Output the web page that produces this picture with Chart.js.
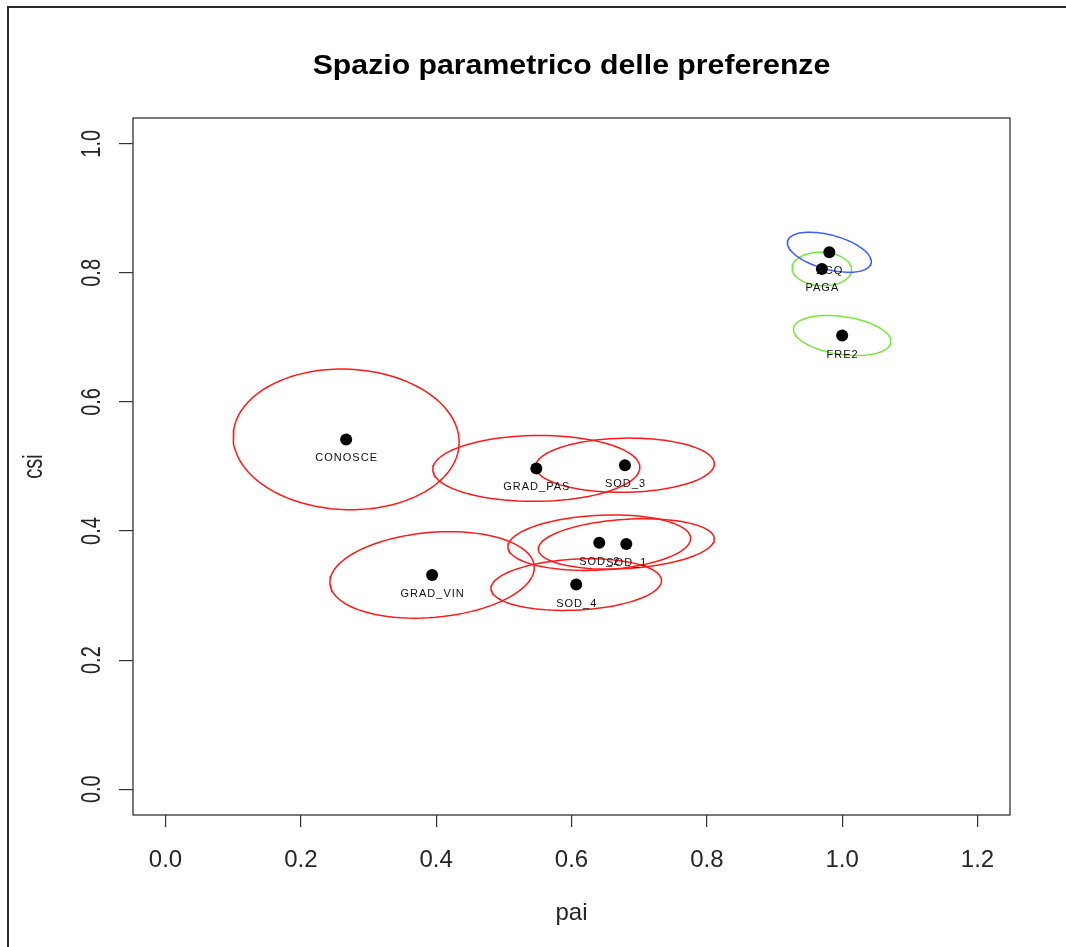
<!DOCTYPE html>
<html>
<head>
<meta charset="utf-8">
<script src="https://cdn.jsdelivr.net/npm/chart.js@4.4.1/dist/chart.umd.min.js"></script>
<style>
  html, body { margin: 0; padding: 0; background: #ffffff; }
  canvas { display: block; }
</style>
</head>
<body>
<canvas id="grafico" width="1066" height="947"></canvas>
<script>
// Testi del grafico
const titolo = 'Spazio parametrico delle preferenze';
const etichettaX = 'pai';
const etichettaY = 'csi';

// Tacche degli assi
const tickX = [0.0, 0.2, 0.4, 0.6, 0.8, 1.0, 1.2];
const tickY = [0.0, 0.2, 0.4, 0.6, 0.8, 1.0];
const tickXTesto = ['0.0', '0.2', '0.4', '0.6', '0.8', '1.0', '1.2'];
const tickYTesto = ['0.0', '0.2', '0.4', '0.6', '0.8', '1.0'];

// Stime dei parametri per ciascuna variabile
const nomi    = ['CONOSCE', 'GRAD_PAS', 'SOD_3', 'SOD_2', 'SOD_1', 'SOD_4', 'GRAD_VIN', 'ACQ', 'PAGA', 'FRE2'];
const pai     = [0.267, 0.548, 0.679, 0.641, 0.681, 0.607, 0.394, 0.981, 0.970, 1.000];
const csi     = [0.542, 0.497, 0.502, 0.382, 0.380, 0.317, 0.332, 0.832, 0.806, 0.703];
// Semiampiezze delle regioni di confidenza e correlazione tra pai e csi
const semiPai = [0.167, 0.153, 0.132, 0.135, 0.130, 0.126, 0.151, 0.062, 0.044, 0.072];
const semiCsi = [0.109, 0.051, 0.042, 0.043, 0.039, 0.040, 0.067, 0.031, 0.026, 0.031];
const corr    = [-0.04, 0.03, 0.05, 0.15, 0.20, 0.15, 0.17, -0.47, -0.05, -0.30];
const gruppo  = [1, 1, 1, 1, 1, 1, 1, 2, 3, 3];

// Stili
const coloreGruppo = { 1: '#ff1a1a', 2: '#3f5dff', 3: '#7ae63c' };
const limitiX = { min: -0.048, max: 1.248 };
const limitiY = { min: -0.04, max: 1.04 };
const FONT = '"Liberation Sans", Arial, Helvetica, sans-serif';

// Contorno dell'ellisse di confidenza (parametrizzazione con correlazione)
function contorno(cx, cy, sx, sy, r, passi) {
  const d = Math.acos(r);
  const punti = [];
  for (let i = 0; i <= passi; i++) {
    const t = (2 * Math.PI * i) / passi;
    punti.push({ x: cx + sx * Math.cos(t + d / 2), y: cy + sy * Math.cos(t - d / 2) });
  }
  return punti;
}

const datasetEllissi = nomi.map((n, i) => ({
  label: n,
  data: contorno(pai[i], csi[i], semiPai[i], semiCsi[i], corr[i], 90),
  showLine: true,
  fill: false,
  borderColor: coloreGruppo[gruppo[i]],
  borderWidth: 1.5,
  pointRadius: 0,
  tension: 0,
  order: 2
}));

const datasetPunti = {
  label: 'stime',
  data: nomi.map((n, i) => ({ x: pai[i], y: csi[i] })),
  showLine: false,
  pointRadius: 6,
  pointBackgroundColor: '#000000',
  pointBorderColor: '#000000',
  pointBorderWidth: 0,
  order: 1
};

// Testi, riquadro e cornice disegnati sopra il grafico
const testiGrafico = {
  id: 'testiGrafico',
  afterDraw(chart) {
    const ctx = chart.ctx;
    const area = chart.chartArea;
    const sx = chart.scales.x, sy = chart.scales.y;
    const cxArea = (area.left + area.right) / 2;
    const cyArea = (area.top + area.bottom) / 2;
    ctx.save();

    // cornice esterna
    ctx.strokeStyle = '#2a2a2a';
    ctx.lineWidth = 2;
    ctx.beginPath();
    ctx.moveTo(8, 947);
    ctx.lineTo(8, 7);
    ctx.lineTo(1066, 7);
    ctx.stroke();

    // riquadro dell'area del grafico
    ctx.strokeStyle = '#333333';
    ctx.lineWidth = 1.3;
    ctx.strokeRect(area.left, area.top, area.right - area.left, area.bottom - area.top);

    // titolo
    ctx.fillStyle = '#000000';
    ctx.textAlign = 'center';
    ctx.textBaseline = 'middle';
    ctx.save();
    ctx.translate(cxArea, 66);
    ctx.scale(1.12, 1.05);
    ctx.font = 'bold 27px ' + FONT;
    ctx.fillText(titolo, 0, 0);
    ctx.restore();

    // etichette asse x
    ctx.fillStyle = '#262626';
    ctx.font = '24px ' + FONT;
    tickX.forEach((v, i) => {
      ctx.fillText(tickXTesto[i], sx.getPixelForValue(v), 860);
    });
    ctx.fillText(etichettaX, cxArea, 913);

    // etichette asse y (ruotate)
    ctx.font = '20px ' + FONT;
    tickY.forEach((v, i) => {
      ctx.save();
      ctx.translate(92, sy.getPixelForValue(v));
      ctx.rotate(-Math.PI / 2);
      ctx.scale(1, 1.4);
      ctx.fillText(tickYTesto[i], 0, 0);
      ctx.restore();
    });
    ctx.save();
    ctx.translate(34, cyArea);
    ctx.rotate(-Math.PI / 2);
    ctx.scale(1, 1.4);
    ctx.fillText(etichettaY, 0, 0);
    ctx.restore();

    // nomi delle variabili sotto i punti
    ctx.fillStyle = '#111111';
    ctx.font = '11px ' + FONT;
    if ('letterSpacing' in ctx) ctx.letterSpacing = '1px';
    nomi.forEach((n, i) => {
      ctx.fillText(n, sx.getPixelForValue(pai[i]) + 0.5, sy.getPixelForValue(csi[i]) + 19);
    });
    ctx.restore();
  }
};

new Chart(document.getElementById('grafico'), {
  type: 'scatter',
  data: { datasets: [...datasetEllissi, datasetPunti] },
  options: {
    responsive: false,
    animation: false,
    events: [],
    layout: { padding: { top: 118, right: 56, left: 0, bottom: 0 } },
    plugins: { legend: { display: false }, tooltip: { enabled: false }, title: { display: false } },
    scales: {
      x: {
        type: 'linear',
        min: limitiX.min,
        max: limitiX.max,
        afterBuildTicks: (s) => { s.ticks = tickX.map(v => ({ value: v })); },
        afterFit: (s) => { s.height = 132; },
        ticks: { display: false },
        border: { display: false },
        grid: { drawOnChartArea: false, drawTicks: true, tickLength: 12, color: '#333333', lineWidth: 1.2 }
      },
      y: {
        type: 'linear',
        min: limitiY.min,
        max: limitiY.max,
        afterBuildTicks: (s) => { s.ticks = tickY.map(v => ({ value: v })); },
        afterFit: (s) => { s.width = 133; },
        ticks: { display: false },
        border: { display: false },
        grid: { drawOnChartArea: false, drawTicks: true, tickLength: 14, color: '#333333', lineWidth: 1.2 }
      }
    }
  },
  plugins: [testiGrafico]
});
</script>
</body>
</html>
